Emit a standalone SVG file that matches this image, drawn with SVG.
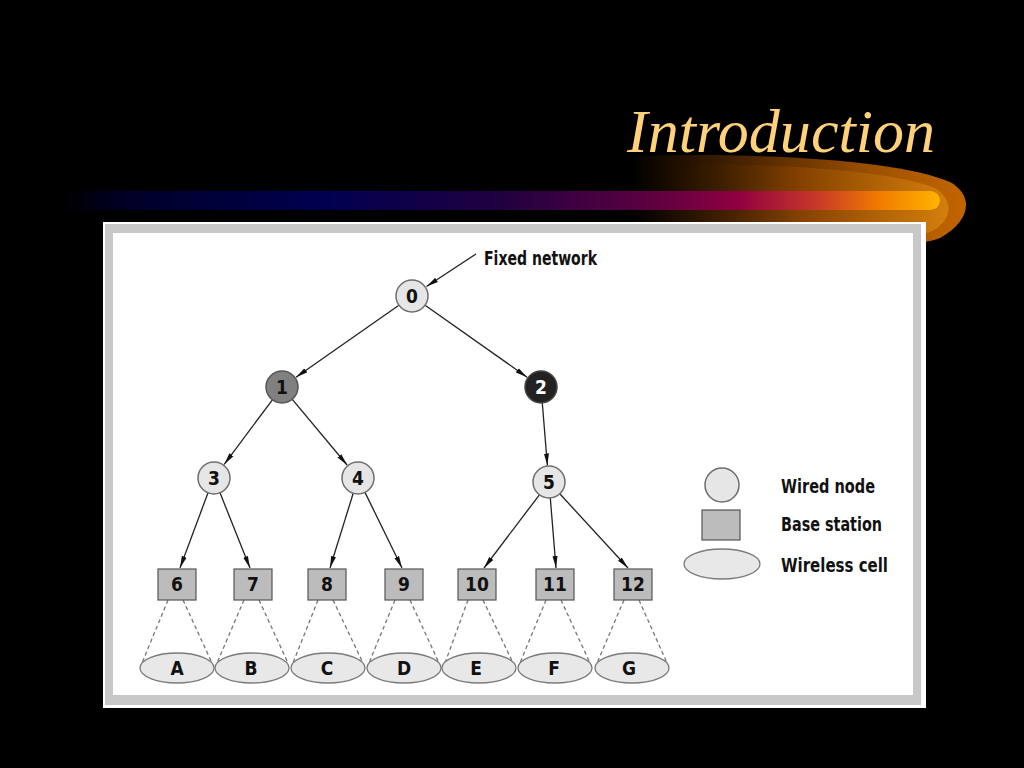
<svg xmlns="http://www.w3.org/2000/svg" width="1024" height="768" viewBox="0 0 1024 768">
<defs>
<linearGradient id="bar" x1="60" y1="0" x2="940" y2="0" gradientUnits="userSpaceOnUse">
<stop offset="0" stop-color="#000000"/>
<stop offset="0.08" stop-color="#000028"/>
<stop offset="0.3" stop-color="#000050"/>
<stop offset="0.5" stop-color="#200040"/>
<stop offset="0.68" stop-color="#600040"/>
<stop offset="0.77" stop-color="#900040"/>
<stop offset="0.86" stop-color="#c83828"/>
<stop offset="0.93" stop-color="#f07a00"/>
<stop offset="1" stop-color="#ffb400"/>
</linearGradient>
<linearGradient id="glow" x1="630" y1="0" x2="960" y2="0" gradientUnits="userSpaceOnUse">
<stop offset="0" stop-color="#000000"/>
<stop offset="0.35" stop-color="#4a2400"/>
<stop offset="0.75" stop-color="#a05200"/>
<stop offset="1" stop-color="#c06400"/>
</linearGradient>
<linearGradient id="glow2" x1="640" y1="0" x2="960" y2="0" gradientUnits="userSpaceOnUse">
<stop offset="0" stop-color="#000000" stop-opacity="0"/>
<stop offset="0.5" stop-color="#8a4400"/>
<stop offset="1" stop-color="#e08a10"/>
</linearGradient>
<marker id="ah" viewBox="0 0 12 6" refX="12" refY="3" markerWidth="12" markerHeight="6" markerUnits="userSpaceOnUse" orient="auto">
<path d="M0,0.5 L12,3 L0,5.5 Z" fill="#111"/>
</marker>
<style>
.t{font-family:"DejaVu Sans Condensed","Liberation Sans",sans-serif;font-weight:bold;fill:#111;}
.lbl{font-size:19px;text-anchor:middle;}
.leg{font-size:20px;}
.wn{fill:#e6e6e6;stroke:#6e6e6e;stroke-width:1.5;}
.bs{fill:#bcbcbc;stroke:#555;stroke-width:1.2;}
.wc{fill:#e8e8e8;stroke:#7a7a7a;stroke-width:1.3;}
.arr{stroke:#222;stroke-width:1.3;fill:none;marker-end:url(#ah);}
.dash{stroke:#777;stroke-width:1.3;stroke-dasharray:4,3;fill:none;}
</style>
</defs>
<rect x="0" y="0" width="1024" height="768" fill="#000"/>
<!-- swoosh -->
<path d="M630,156 C760,152 900,160 950,182 C975,196 970,222 940,238 C905,252 760,250 630,240 Z" fill="url(#glow)"/>
<path d="M640,164 C770,162 890,170 935,188 C955,200 952,222 930,232 C895,244 770,240 640,232 Z" fill="url(#glow2)" opacity="0.8"/>
<rect x="60" y="191" width="880" height="19" rx="9.5" fill="url(#bar)"/>
<text x="935" y="152" font-family="Liberation Serif, serif" font-style="italic" font-size="62" fill="#ffd27a" text-anchor="end" textLength="308" lengthAdjust="spacingAndGlyphs">Introduction</text>
<!-- panel -->
<rect x="103" y="222" width="823" height="486" fill="#ffffff"/>
<rect x="105" y="224" width="816" height="481" fill="#c8c8c8"/>
<rect x="113" y="233" width="800" height="462" fill="#ffffff"/>
<!-- connectors -->
<g id="connectors">
<line class="arr" x1="476" y1="254" x2="426.5" y2="286.5"/>
<line class="arr" x1="398.9" y1="305.2" x2="296" y2="377.3"/>
<line class="arr" x1="425.1" y1="305.2" x2="527.1" y2="377.2"/>
<line class="arr" x1="272.4" y1="399.8" x2="224.2" y2="464.4"/>
<line class="arr" x1="292.3" y1="399.3" x2="347.1" y2="465"/>
<line class="arr" x1="542.3" y1="403" x2="547.4" y2="465.5"/>
<line class="arr" x1="208" y1="492.8" x2="180" y2="568"/>
<line class="arr" x1="220" y1="492.8" x2="250" y2="568"/>
<line class="arr" x1="353.2" y1="493.3" x2="330" y2="568"/>
<line class="arr" x1="365" y1="492.4" x2="402" y2="568"/>
<line class="arr" x1="539.4" y1="494.8" x2="484" y2="568"/>
<line class="arr" x1="550.3" y1="498" x2="556" y2="568"/>
<line class="arr" x1="559.8" y1="493.8" x2="628" y2="568"/>
<path class="dash" d="M168,600 L142,663 M183,600 L212,663"/>
<path class="dash" d="M244,600 L217,663 M259,600 L288,663"/>
<path class="dash" d="M318,600 L293,663 M333,600 L363,663"/>
<path class="dash" d="M395,600 L369,663 M410,600 L439,663"/>
<path class="dash" d="M468,600 L445,663 M483,600 L513,663"/>
<path class="dash" d="M546,600 L520,663 M561,600 L590,663"/>
<path class="dash" d="M624,600 L597,663 M639,600 L667,663"/>
</g>
<text class="t" x="484" y="265" font-size="20" textLength="113" lengthAdjust="spacingAndGlyphs">Fixed network</text>
<!-- wired nodes -->
<g id="n0"><circle class="wn" cx="412" cy="296" r="16"/><text class="t lbl" x="412" y="303">0</text></g>
<g id="n1"><circle cx="282" cy="387" r="16" fill="#808080" stroke="#555" stroke-width="1.5"/><text class="t lbl" x="282" y="394">1</text></g>
<g id="n2"><circle cx="541" cy="387" r="16" fill="#222" stroke="#444" stroke-width="1.5"/><text class="t lbl" x="541" y="394" style="fill:#fff">2</text></g>
<g id="n3"><circle class="wn" cx="214" cy="478" r="16"/><text class="t lbl" x="214" y="485">3</text></g>
<g id="n4"><circle class="wn" cx="358" cy="478" r="16"/><text class="t lbl" x="358" y="485">4</text></g>
<g id="n5"><circle class="wn" cx="549" cy="482" r="16"/><text class="t lbl" x="549" y="489">5</text></g>
<!-- base stations -->
<g id="n6"><rect class="bs" x="158" y="569" width="38" height="31"/><text class="t lbl" x="177" y="591">6</text></g>
<g id="n7"><rect class="bs" x="234" y="569" width="38" height="31"/><text class="t lbl" x="253" y="591">7</text></g>
<g id="n8"><rect class="bs" x="308" y="569" width="38" height="31"/><text class="t lbl" x="327" y="591">8</text></g>
<g id="n9"><rect class="bs" x="385" y="569" width="38" height="31"/><text class="t lbl" x="404" y="591">9</text></g>
<g id="n10"><rect class="bs" x="458" y="569" width="38" height="31"/><text class="t lbl" x="477" y="591">10</text></g>
<g id="n11"><rect class="bs" x="536" y="569" width="38" height="31"/><text class="t lbl" x="555" y="591">11</text></g>
<g id="n12"><rect class="bs" x="614" y="569" width="38" height="31"/><text class="t lbl" x="633" y="591">12</text></g>
<!-- wireless cells -->
<g id="cA"><ellipse class="wc" cx="177" cy="668" rx="37" ry="15"/><text class="t lbl" x="177" y="675">A</text></g>
<g id="cB"><ellipse class="wc" cx="252" cy="668" rx="37" ry="15"/><text class="t lbl" x="251" y="675">B</text></g>
<g id="cC"><ellipse class="wc" cx="328" cy="668" rx="37" ry="15"/><text class="t lbl" x="327" y="675">C</text></g>
<g id="cD"><ellipse class="wc" cx="404" cy="668" rx="37" ry="15"/><text class="t lbl" x="404" y="675">D</text></g>
<g id="cE"><ellipse class="wc" cx="479" cy="668" rx="37" ry="15"/><text class="t lbl" x="476" y="675">E</text></g>
<g id="cF"><ellipse class="wc" cx="555" cy="668" rx="37" ry="15"/><text class="t lbl" x="554" y="675">F</text></g>
<g id="cG"><ellipse class="wc" cx="632" cy="668" rx="37" ry="15"/><text class="t lbl" x="629" y="675">G</text></g>
<!-- legend -->
<g id="legend">
<circle class="wn" cx="722" cy="485" r="17"/>
<rect class="bs" x="702" y="510" width="38" height="30"/>
<ellipse class="wc" cx="722" cy="564" rx="38" ry="15"/>
<text class="t leg" x="781" y="493" textLength="94" lengthAdjust="spacingAndGlyphs">Wired node</text>
<text class="t leg" x="781" y="531" textLength="101" lengthAdjust="spacingAndGlyphs">Base station</text>
<text class="t leg" x="781" y="572" textLength="107" lengthAdjust="spacingAndGlyphs">Wireless cell</text>
</g>
</svg>
